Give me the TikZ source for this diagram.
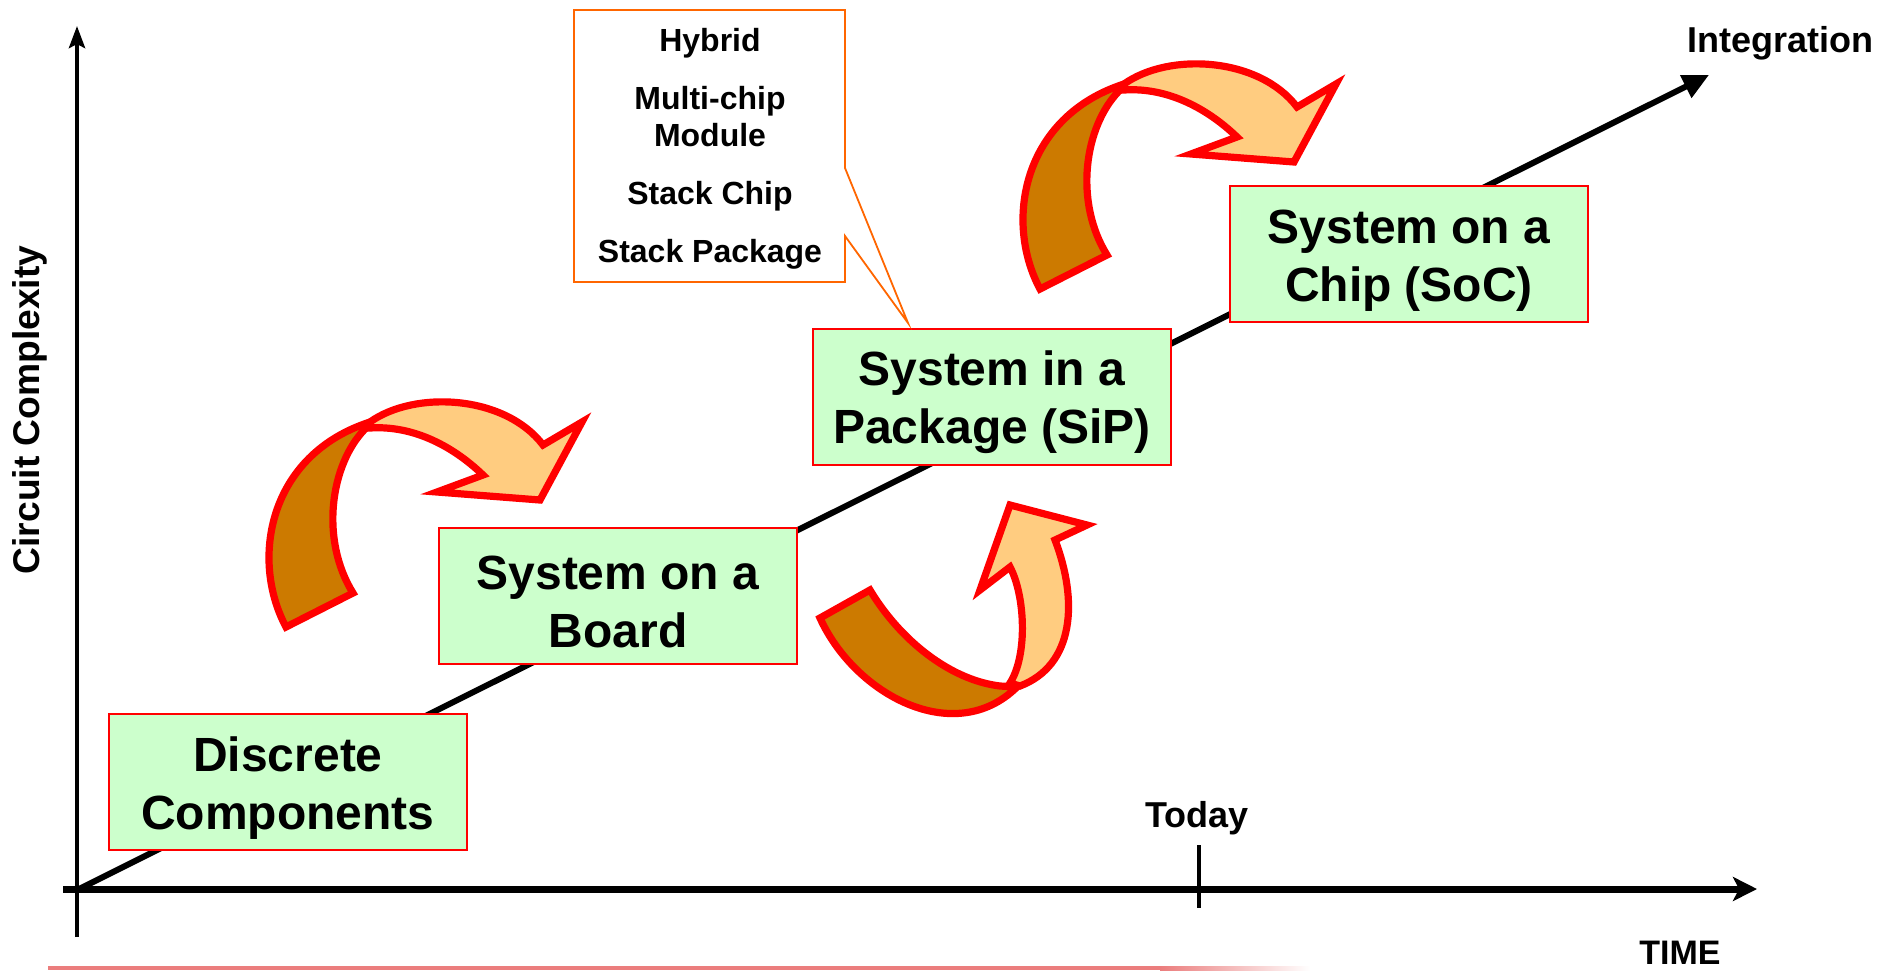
\documentclass[tikz,border=0pt]{standalone}
\usepackage{fontspec}
\setmainfont{Liberation Sans}
\usetikzlibrary{arrows.meta}
\definecolor{stagegreen}{HTML}{CCFFCC}
\definecolor{backface}{HTML}{CC7A00}
\definecolor{frontface}{HTML}{FFCC80}
\definecolor{noteline}{HTML}{FF6600}
\definecolor{rulered}{HTML}{EB7D7D}
% pushes the first line of a stage box down a little
\newcommand{\stagetop}{\rule{0pt}{23pt}}

\begin{document}
\begin{tikzpicture}[x=0.5pt, y=-0.5pt, font=\bfseries,
  stage/.style={draw=red, line width=0.8pt, fill=stagegreen, minimum width=179pt,
                minimum height=68pt, inner sep=0pt, align=center,
                font=\bfseries\fontsize{24}{29}\selectfont},
  axislabel/.style={font=\bfseries\fontsize{18}{21}\selectfont},
  swoosh/.style={draw=red, line width=3.6pt}]
  \useasboundingbox (0,0) rectangle (1890,970);

  % Axes
  \coordinate (origin) at (77,890);
  \coordinate (ytop) at (77,26);
  \coordinate (ybot) at (77,937);
  \coordinate (xleft) at (63,889);
  \coordinate (xright) at (1757,889);
  \coordinate (inttip) at (1709,75);
  \draw[line width=2.2pt, -{Stealth[length=11pt, width=8pt, inset=2pt]}] (ybot) -- (ytop);
  \draw[line width=3.5pt, -{Stealth[length=12pt, width=12pt, inset=3pt]}] (xleft) -- (xright);
  \draw[line width=3pt, -{Triangle[length=13pt, width=12pt]}] (origin) -- (inttip);

  \node[axislabel, font=\bfseries\fontsize{18.6}{21}\selectfont, rotate=90] (complexity) at (30,410) {Circuit Complexity};
  \node[axislabel] (integration) at (1780,43) {Integration};
  \node[axislabel] (today) at (1197,818) {Today};
  \node[font=\bfseries\fontsize{17}{20}\selectfont] (time) at (1680,953) {TIME};
  \draw[line width=1.6pt] (1199,845) -- (1199,908);

  % Stages along the integration line
  \node[stage] (discrete) at (288,782) {\stagetop Discrete\\Components};
  \node[stage] (board) at (618,596) {\stagetop System on a\\Board};
  \node[stage] (sip) at (992,397) {\stagetop System in a\\Package (SiP)};
  \node[stage] (soc) at (1409,254) {\stagetop System on a\\Chip (SoC)};

  % Callout for the SiP variants
  \draw[noteline, line width=0.9pt, fill=white]
    (574,10) -- (845,10) -- (845,168) -- (908,323) -- (845,236) -- (845,282) -- (574,282) -- cycle;
  \node[align=center, font=\bfseries\fontsize{16}{18.5}\selectfont] (variants) at (710,149)
    {Hybrid\\[10.5pt] Multi-chip\\Module\\[10.5pt] Stack Chip\\[10.5pt] Stack Package};

  % Curved arrows: board -> SiP, SiP -> SoC
  \foreach \dx/\dy in {0/0, 754/-338}{
    \begin{scope}[shift={(\dx,\dy)}]
      \draw[swoosh, fill=backface]
        (286,627) .. controls (250,560) and (268,455) .. (370,422)
        -- (365,429) .. controls (330,465) and (320,540) .. (353,593) -- cycle;
      \draw[swoosh, fill=frontface]
        (370,422) .. controls (415,390) and (505,395) .. (543,445)
        -- (582,422) -- (540,500) -- (437,492) -- (483,475)
        .. controls (455,448) and (415,425) .. (370,428) -- cycle;
    \end{scope}
  }

  % Curved arrow under the line
  \draw[swoosh, fill=backface]
    (820,618) .. controls (855,695) and (955,748) .. (1017,687)
    -- (1000,686) .. controls (950,680) and (900,640) .. (870,590) -- cycle;
  \draw[swoosh, fill=frontface]
    (1010,683) .. controls (1028,655) and (1025,595) .. (1010,567)
    -- (980,590) -- (1010,505) -- (1087,525) -- (1055,540)
    .. controls (1078,600) and (1075,665) .. (1020,686) -- cycle;

  % Rule at the bottom
  \fill[rulered] (48,966) rectangle (1160,970);
  \shade[left color=rulered, right color=white] (1160,966) rectangle (1310,970);
\end{tikzpicture}
\end{document}
